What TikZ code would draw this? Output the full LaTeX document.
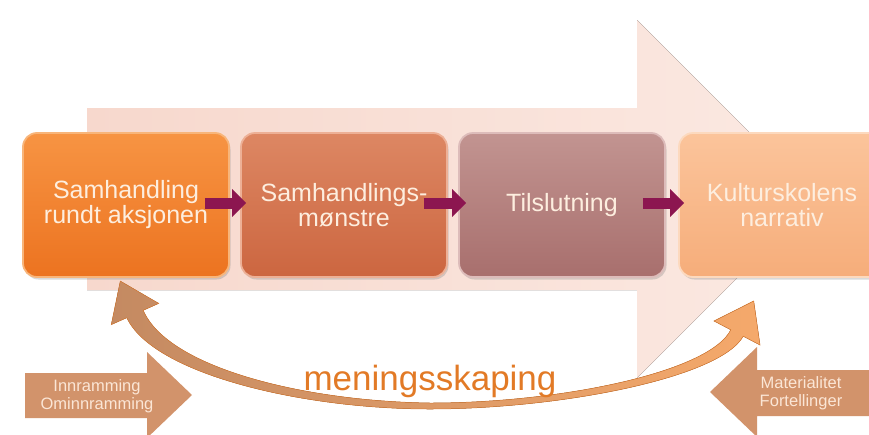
\documentclass[tikz,border=0pt]{standalone}
\usepackage{fontspec}
\setmainfont{Liberation Sans}
\usetikzlibrary{arrows.meta,shadows}

\definecolor{bgL}{HTML}{F7D8CD}
\definecolor{bgR}{HTML}{FBE9E2}
\definecolor{oneT}{HTML}{F79443}
\definecolor{oneB}{HTML}{EC7320}
\definecolor{oneR}{HTML}{F8B57A}
\definecolor{twoT}{HTML}{DD8763}
\definecolor{twoB}{HTML}{CC6640}
\definecolor{twoR}{HTML}{EDB096}
\definecolor{thrT}{HTML}{C29491}
\definecolor{thrB}{HTML}{A86F6D}
\definecolor{thrR}{HTML}{DDBCBA}
\definecolor{fouT}{HTML}{FBC49B}
\definecolor{fouB}{HTML}{F6AD7A}
\definecolor{fouR}{HTML}{FCD9BE}
\definecolor{boxtext}{HTML}{FDEEDF}
\definecolor{maroon}{HTML}{8C1650}
\definecolor{arcL}{HTML}{C48A62}
\definecolor{arcM}{HTML}{E2893F}
\definecolor{arcR}{HTML}{F5A96B}
\definecolor{arcEdge}{HTML}{D97C34}
\definecolor{sidefill}{HTML}{D2936B}
\definecolor{sidetext}{HTML}{FBE6D6}
\definecolor{mtext}{HTML}{E27A26}

\tikzset{
  stepbox/.style={rounded corners=14pt, minimum width=206pt, minimum height=144pt,
    inner sep=0pt, align=center, line width=1.8pt, text=boxtext,
    font=\fontsize{25}{25}\selectfont,
    drop shadow={opacity=0.3, shadow xshift=1.5pt, shadow yshift=-2.5pt}},
  flow/.style={draw=maroon, line width=11pt, -{Triangle[length=14pt,width=27pt]}},
  sidearrow/.style={fill=sidefill},
  sidelabel/.style={text=sidetext, align=center, inner sep=0pt,
    font=\fontsize{16.5}{18}\selectfont}
}

\begin{document}
\begin{tikzpicture}[x=1pt,y=-1pt]
\useasboundingbox (0,0) rectangle (869,434);
\clip (0,0) rectangle (869,434);

% large pale arrow behind the process row
\fill[left color=bgL, right color=bgR]
  (87,108) -- (637,108) -- (637,20) -- (816,199) -- (637,378) -- (637,290) -- (87,290) -- cycle;

% process steps
\node[stepbox, top color=oneT, bottom color=oneB, draw=oneR] (b1) at (126,205)
  {Samhandling\\rundt aksjonen};
\node[stepbox, top color=twoT, bottom color=twoB, draw=twoR] (b2) at (344,205)
  {Samhandlings-\\mønstre};
\node[stepbox, top color=thrT, bottom color=thrB, draw=thrR] (b3) at (562,205)
  {Tilslutning};
\node[stepbox, top color=fouT, bottom color=fouB, draw=fouR] (b4) at (782,205)
  {Kulturskolens\\narrativ};

% connectors between steps
\draw[flow] ([shift={(-25pt,2pt)}]b1.east) -- ([shift={(6pt,2pt)}]b2.west);
\draw[flow] ([shift={(-24pt,2pt)}]b2.east) -- ([shift={(8pt,2pt)}]b3.west);
\draw[flow] ([shift={(-23pt,2pt)}]b3.east) -- ([shift={(6pt,2pt)}]b4.west);

% curved double-headed arrow, tapering towards the middle
\fill[left color=arcL, middle color=arcM, right color=arcR, draw=arcEdge, line width=0.5pt]
  (120.3,281.1) -- (111.3,324.6) -- (126.8,317.7)
  .. controls (152.7,373.3) and (300,409) .. (430,409)
  .. controls (560,409) and (720.3,377.8) .. (743.2,336.2)
  -- (760,345) -- (753.7,301) -- (714,321) -- (730.8,329.8)
  .. controls (709.7,372.2) and (560,403) .. (430,403)
  .. controls (300,401) and (167.3,366.7) .. (143.2,310.3)
  -- (158.7,303.4) -- cycle;

\node[anchor=base, text=mtext, inner sep=0pt, font=\fontsize{35}{35}\selectfont]
  (msk) at (430,390) {meningsskaping};

% side influences
\fill[sidearrow] (25,373) -- (147,373) -- (147,352) -- (192,395) -- (147,438)
  -- (147,418) -- (25,418) -- cycle;
\node[sidelabel] (inn) at (97,396) {Innramming\\Ominnramming};

\fill[sidearrow] (869,370) -- (757,370) -- (757,347) -- (710,392) -- (757,437)
  -- (757,416) -- (869,416) -- cycle;
\node[sidelabel] (mat) at (801,393) {Materialitet\\Fortellinger};
\end{tikzpicture}
\end{document}
